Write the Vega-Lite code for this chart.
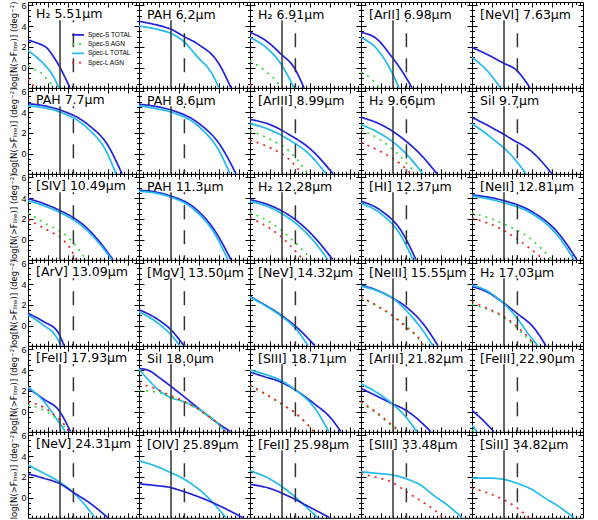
{
"$schema":"https://vega.github.io/schema/vega-lite/v6.json",
"padding":{"left":9,"top":0,"right":5,"bottom":0},
"spacing":0,
"bounds":"flush",
"config":{
 "view":{"continuousWidth":111,"continuousHeight":85.8,"stroke":"#000","strokeWidth":1},
 "title":{"anchor":"start","frame":"group","offset":-19.5,"baseline":"alphabetic","dx":8,"font":"DejaVu Sans","fontSize":12.5,"fontWeight":"normal","color":"#000"},
 "axis":{"domain":false,"grid":false,"ticks":true,"tickColor":"#000","tickWidth":1,"labelFont":"Liberation Sans","labelFontSize":9,"labelColor":"#000","labelOverlap":false,"labelPadding":7,"titleFont":"DejaVu Sans","titleFontSize":8.5,"titleFontWeight":"normal","titleColor":"#000","titlePadding":2},
 "axisX":{"tickCount":25,"tickSize":{"condition":{"test":"datum.value % 1 == 0","value":-5},"value":-2.5}},
 "axisY":{"tickCount":16,"tickSize":{"condition":{"test":"datum.value % 2 == 0","value":-5},"value":-2.5}},
 "legend":{"orient":"none","legendX":45.5,"legendY":28.3,"symbolType":"M-1.7,0H1.7","symbolSize":49,"symbolStrokeWidth":1.8,"labelFont":"Liberation Sans","labelFontSize":6.5,"labelColor":"#000","rowPadding":0.3,"padding":0,"labelOffset":5.5}
},
"datasets":{
"lims":[{"lim":"solid","flux":-19.4,"top":4.55,"bottom":-1.9},{"lim":"dashed","flux":-18.73,"top":4.55,"bottom":-1.9}],
"c":[
{"p":1,"s":"Spec-S TOTAL","x":[-21,-20.5,-20,-19.7,-19.4,-19.15,-18.9],"y":[2.65,2.35,1.8,1.0,0.05,-0.9,-1.9]},
{"p":1,"s":"Spec-S AGN","x":[-21,-20.665,-20.335,-20.085,-19.915,-19.7],"y":[0.2,-0.18,-0.49,-1.0,-1.38,-1.9]},
{"p":1,"s":"Spec-L TOTAL","x":[-21,-20.5,-20.1,-19.85,-19.45],"y":[1.65,0.9,0.15,-0.45,-1.9]},
{"p":1,"s":"Spec-L AGN","x":[-21,-20.65],"y":[-1.05,-1.9]},
{"p":2,"s":"Spec-S TOTAL","x":[-21,-20,-19.4,-18.75,-18.05,-17.05,-16.4],"y":[4.45,4.05,3.7,3.0,2.27,0.53,-1.9]},
{"p":2,"s":"Spec-L TOTAL","x":[-21,-20,-19.4,-18.75,-18.05,-17.4,-17],"y":[4.0,3.65,3.3,2.5,1.0,-0.4,-1.9]},
{"p":3,"s":"Spec-S TOTAL","x":[-21,-20.2,-19.45,-18.8,-18.3],"y":[3.4,2.6,1.32,0.05,-1.9]},
{"p":3,"s":"Spec-L TOTAL","x":[-21,-20.2,-19.45,-18.8],"y":[2.9,1.96,0.37,-1.9]},
{"p":3,"s":"Spec-S AGN","x":[-21,-20.3,-19.7,-19.45],"y":[0.68,-0.2,-1.22,-1.9]},
{"p":3,"s":"Spec-L AGN","x":[-21,-20.85],"y":[-1.55,-1.9]},
{"p":4,"s":"Spec-S TOTAL","x":[-21,-20.2,-19.5,-18.85,-18.45],"y":[3.4,2.75,1.16,-0.6,-1.9]},
{"p":4,"s":"Spec-L TOTAL","x":[-21,-20.2,-19.5,-19.1],"y":[2.9,1.8,-0.27,-1.9]},
{"p":4,"s":"Spec-S AGN","x":[-21,-20.35,-20.1],"y":[-0.42,-1.3,-1.9]},
{"p":5,"s":"Spec-S TOTAL","x":[-21,-20.25,-19.5,-18.75,-18.1],"y":[1.96,1.3,0.53,-0.27,-1.9]},
{"p":5,"s":"Spec-L TOTAL","x":[-21,-20.24,-19.575],"y":[1.0,-0.27,-1.9]},
{"p":6,"s":"Spec-S TOTAL","x":[-21,-20.2,-19.4,-18,-17,-16.3],"y":[4.8,4.6,4.2,2.8,0.8,-1.9]},
{"p":6,"s":"Spec-L TOTAL","x":[-21,-20.2,-19.4,-18,-17.1,-16.6],"y":[4.6,4.4,4.0,2.4,0.3,-1.9]},
{"p":7,"s":"Spec-S TOTAL","x":[-21,-20.2,-19.4,-18,-17,-16.15],"y":[4.75,4.55,4.2,2.9,1.0,-1.9]},
{"p":7,"s":"Spec-L TOTAL","x":[-21,-20.2,-19.4,-18,-17,-16.45],"y":[4.6,4.35,4.0,2.6,0.3,-1.9]},
{"p":8,"s":"Spec-S TOTAL","x":[-21,-20,-19,-18,-16.85],"y":[3.3,2.8,1.8,0.5,-1.9]},
{"p":8,"s":"Spec-L TOTAL","x":[-21,-20,-19,-18,-17.2],"y":[2.9,2.3,1.3,-0.1,-1.9]},
{"p":8,"s":"Spec-S AGN","x":[-21,-20,-19,-18.1],"y":[2.2,1.4,0.2,-1.9]},
{"p":8,"s":"Spec-L AGN","x":[-21,-20,-19,-18.4],"y":[1.3,0.6,-0.6,-1.9]},
{"p":9,"s":"Spec-S TOTAL","x":[-21,-20,-19,-18,-17.2],"y":[3.5,2.8,1.6,-0.1,-1.9]},
{"p":9,"s":"Spec-L TOTAL","x":[-21,-20,-19,-17.9],"y":[2.8,1.9,0.5,-1.9]},
{"p":9,"s":"Spec-S AGN","x":[-21,-20,-19,-18.25],"y":[2.3,1.3,-0.3,-1.9]},
{"p":9,"s":"Spec-L AGN","x":[-21,-20,-19,-18.5],"y":[1.1,0.2,-1.0,-1.9]},
{"p":10,"s":"Spec-S TOTAL","x":[-21,-20,-19,-18,-17],"y":[3.5,2.5,1.4,0.2,-1.9]},
{"p":10,"s":"Spec-L TOTAL","x":[-21,-20,-19,-18.3],"y":[2.9,1.5,-0.2,-1.9]},
{"p":11,"s":"Spec-S TOTAL","x":[-21,-20.25,-19.5,-18.75,-18.15,-17.5,-16.75],"y":[3.95,3.5,2.9,2.15,1.3,0.0,-1.9]},
{"p":11,"s":"Spec-L TOTAL","x":[-21,-20.25,-19.5,-18.75,-18.15,-17.5,-16.8],"y":[3.75,3.3,2.7,1.95,1.1,-0.2,-1.9]},
{"p":11,"s":"Spec-S AGN","x":[-21,-20,-19.25,-18.65,-18.1],"y":[2.57,1.45,0.66,-0.45,-1.9]},
{"p":11,"s":"Spec-L AGN","x":[-21,-19.915,-19.35,-18.85,-18.6],"y":[1.93,0.82,0.19,-0.93,-1.9]},
{"p":12,"s":"Spec-S TOTAL","x":[-21,-20.25,-19.5,-18.25,-17.25,-16.4],"y":[4.75,4.6,4.25,3.1,1.0,-1.9]},
{"p":12,"s":"Spec-L TOTAL","x":[-21,-20.25,-19.5,-18.25,-17.25,-16.55],"y":[4.65,4.5,4.15,2.9,0.7,-1.9]},
{"p":13,"s":"Spec-S TOTAL","x":[-21,-20,-19,-18,-16.85],"y":[3.85,3.3,2.3,0.7,-1.9]},
{"p":13,"s":"Spec-L TOTAL","x":[-21,-20,-19,-18,-17.1],"y":[3.7,3.1,2.0,0.3,-1.9]},
{"p":13,"s":"Spec-S AGN","x":[-21,-20,-19,-17.9],"y":[2.6,1.7,0.2,-1.9]},
{"p":13,"s":"Spec-L AGN","x":[-21,-20,-19,-18.35],"y":[2.1,1.1,-0.5,-1.9]},
{"p":14,"s":"Spec-S TOTAL","x":[-21,-20,-19,-18.25],"y":[3.7,2.8,0.9,-1.9]},
{"p":14,"s":"Spec-L TOTAL","x":[-21,-20,-19,-18.4],"y":[3.5,2.5,0.4,-1.9]},
{"p":15,"s":"Spec-S TOTAL","x":[-21,-19.5,-18,-16.75,-15.75],"y":[4.3,3.8,2.7,0.8,-1.9]},
{"p":15,"s":"Spec-L TOTAL","x":[-21,-19.5,-18,-16.75,-15.9],"y":[4.2,3.6,2.5,0.5,-1.9]},
{"p":15,"s":"Spec-S AGN","x":[-21,-19.5,-18,-17],"y":[2.6,1.6,0.0,-1.9]},
{"p":15,"s":"Spec-L AGN","x":[-21,-19.5,-18.25,-17.4],"y":[2.1,1.0,-0.6,-1.9]},
{"p":16,"s":"Spec-S TOTAL","x":[-21,-20.25,-19.5,-19.2],"y":[1.2,0.45,-0.6,-1.9]},
{"p":16,"s":"Spec-L TOTAL","x":[-21,-20.25,-19.6,-19.35],"y":[1.05,0.1,-1.0,-1.9]},
{"p":17,"s":"Spec-S TOTAL","x":[-21,-20.15,-19.4,-18.75],"y":[1.55,0.73,-0.38,-1.9]},
{"p":17,"s":"Spec-L TOTAL","x":[-21,-20.15,-19.4,-18.95],"y":[1.35,0.4,-0.85,-1.9]},
{"p":18,"s":"Spec-S TOTAL","x":[-21,-20.25,-19.45,-18.7,-17.75],"y":[2.8,2.0,1.04,-0.07,-1.9]},
{"p":18,"s":"Spec-L TOTAL","x":[-21,-20.25,-19.45,-18.7,-18.1],"y":[2.75,1.95,0.95,-0.3,-1.9]},
{"p":19,"s":"Spec-S TOTAL","x":[-21,-20.25,-19.45,-18.75,-17.85,-17.15],"y":[3.9,3.45,2.7,1.83,0.1,-1.9]},
{"p":19,"s":"Spec-L TOTAL","x":[-21,-20.25,-19.45,-18.75,-18,-17.4],"y":[3.8,3.4,2.7,1.5,-0.2,-1.9]},
{"p":19,"s":"Spec-S AGN","x":[-21,-20,-19.35,-18.7,-17.85],"y":[2.65,1.7,0.9,-0.05,-1.9]},
{"p":19,"s":"Spec-L AGN","x":[-21,-20,-19.35,-18.7,-18,-17.9],"y":[2.8,1.68,0.88,-0.22,-1.5,-1.9]},
{"p":20,"s":"Spec-S TOTAL","x":[-21,-20.25,-19.5,-18.75,-17.9,-17.3],"y":[3.75,3.25,2.3,1.2,-0.2,-1.9]},
{"p":20,"s":"Spec-L TOTAL","x":[-21,-20.25,-19.5,-18.75,-18.15,-17.7],"y":[3.9,3.35,2.3,0.75,-0.86,-1.9]},
{"p":20,"s":"Spec-S AGN","x":[-21,-20.25,-19.4,-18.75,-18.1,-17.85],"y":[2.05,1.6,0.8,-0.2,-1.45,-1.9]},
{"p":20,"s":"Spec-L AGN","x":[-21,-20.25,-19.4,-18.75,-18.075,-17.85],"y":[2.31,1.68,0.88,-0.07,-1.34,-1.9]},
{"p":21,"s":"Spec-S TOTAL","x":[-21,-20.25,-19.4,-18.875],"y":[2.25,1.27,0.0,-1.9]},
{"p":21,"s":"Spec-L TOTAL","x":[-21,-20.25,-19.585,-19.125],"y":[2.38,1.1,-0.63,-1.9]},
{"p":21,"s":"Spec-S AGN","x":[-21,-20.25,-19.65,-19.15,-19.0],"y":[0.65,0.2,-0.5,-1.5,-1.9]},
{"p":21,"s":"Spec-L AGN","x":[-21,-20.25,-19.665,-19.165,-18.95],"y":[0.95,0.47,-0.32,-1.27,-1.9]},
{"p":22,"s":"Spec-S TOTAL","x":[-21,-20.5,-20,-19.475,-18.725,-17.8,-17.15,-16.4],"y":[4.15,3.95,3.3,2.55,1.42,0.0,-0.95,-1.9]},
{"p":22,"s":"Spec-L TOTAL","x":[-21,-20.5,-20,-19.475,-18.725,-17.8,-16.8,-16.65],"y":[4.1,3.0,2.05,1.42,0.95,0.0,-1.6,-1.9]},
{"p":22,"s":"Spec-S AGN","x":[-21,-20.15,-19.475,-18.725,-17.8,-16.8,-16.7],"y":[2.05,1.9,1.45,0.95,-0.05,-1.65,-1.9]},
{"p":22,"s":"Spec-L AGN","x":[-21,-20.15,-19.475,-18.725,-17.8,-16.8,-16.7],"y":[2.7,2.2,1.6,1.0,-0.05,-1.65,-1.9]},
{"p":23,"s":"Spec-S TOTAL","x":[-21,-20.25,-19.45,-18.7,-17.8,-17,-16.45],"y":[3.8,3.35,2.85,2.06,0.8,-0.5,-1.9]},
{"p":23,"s":"Spec-L TOTAL","x":[-21,-20.25,-19.45,-18.7,-17.8,-17.05],"y":[4.0,3.6,3.0,2.06,0.45,-1.9]},
{"p":23,"s":"Spec-S AGN","x":[-21,-20.25,-19.45,-18.7,-17.8],"y":[2.45,1.7,0.78,-0.17,-1.9]},
{"p":23,"s":"Spec-L AGN","x":[-21,-20.25,-19.45,-18.7,-17.8],"y":[2.55,1.75,0.8,-0.15,-1.9]},
{"p":24,"s":"Spec-S TOTAL","x":[-21,-20.25,-19.45,-18.75,-17.5],"y":[2.25,1.55,0.8,0.16,-1.9]},
{"p":24,"s":"Spec-L TOTAL","x":[-21,-20.25,-19.45,-18.75,-18.2],"y":[2.7,1.9,0.8,-0.5,-1.9]},
{"p":24,"s":"Spec-S AGN","x":[-21,-20.25,-19.45,-19.1],"y":[0.85,-0.1,-1.35,-1.9]},
{"p":24,"s":"Spec-L AGN","x":[-21,-20.25,-19.45,-19],"y":[0.95,0.0,-1.25,-1.9]},
{"p":25,"s":"Spec-S TOTAL","x":[-21,-20.45,-19.9],"y":[0.15,-0.8,-1.9]},
{"p":25,"s":"Spec-L TOTAL","x":[-21,-20.75],"y":[-1.27,-1.9]},
{"p":25,"s":"Spec-S AGN","x":[-21,-20.7],"y":[-1.75,-1.9]},
{"p":26,"s":"Spec-L TOTAL","x":[-21,-20.25,-19.4,-18.75,-17.65],"y":[3.15,2.4,1.5,0.55,-1.9]},
{"p":26,"s":"Spec-S TOTAL","x":[-21,-20.25,-19.4,-18.75,-17.9,-17],"y":[2.3,1.9,1.35,0.55,-0.5,-1.9]},
{"p":27,"s":"Spec-L TOTAL","x":[-21,-20.25,-19.45,-18.75,-17.75,-16.65],"y":[3.55,3.1,2.45,1.8,0.4,-1.9]},
{"p":27,"s":"Spec-S TOTAL","x":[-21,-20.25,-19.45,-18.75,-17.5,-16.5,-15.8],"y":[1.35,1.2,1.0,0.6,-0.3,-1.2,-1.9]},
{"p":28,"s":"Spec-L TOTAL","x":[-21,-20,-19,-18,-17.6],"y":[2.6,1.8,0.5,-1.2,-1.9]},
{"p":28,"s":"Spec-S TOTAL","x":[-21,-20,-19,-18,-17],"y":[1.3,0.9,0.1,-0.9,-1.9]},
{"p":29,"s":"Spec-L TOTAL","x":[-21,-20.2,-19.45,-18.7,-18,-17.35,-16.6,-15.95],"y":[2.5,2.35,2.2,1.8,1.2,0.22,-0.8,-1.9]},
{"p":29,"s":"Spec-L AGN","x":[-21,-20.2,-19.45,-18.7,-18,-17.2,-16.9],"y":[2.3,1.95,1.5,0.55,-0.3,-1.35,-1.9]},
{"p":30,"s":"Spec-L TOTAL","x":[-21,-20.25,-19.5,-18.75,-18,-17.4,-16.6,-15.9],"y":[1.9,1.9,1.8,1.4,0.8,0.05,-0.9,-1.9]},
{"p":30,"s":"Spec-L AGN","x":[-21,-20.25,-19.5,-18.75,-18.15],"y":[0.95,0.5,-0.1,-0.95,-1.9]}
]},
"columns":5,
"concat":[
{"title":"H₂ 5.51μm","resolve":{"axis":{"x":"independent","y":"independent"}},"layer":[{"data":{"name":"c"},"transform":[{"filter":"datum.p==1"},{"flatten":["x","y"]}],"mark":{"type":"line","clip":true,"strokeWidth":1.7,"interpolate":"monotone"},"encoding":{"x":{"field":"x","type":"quantitative","scale":{"domain":[-21,-15.45],"nice":false},"axis":{"orient":"bottom","labels":false,"title":null}},"y":{"field":"y","type":"quantitative","scale":{"domain":[-1.9,6.3],"nice":false},"axis":{"orient":"left","title":"log[N(>Fₗᵢₙₑ)] (deg⁻²)","labelExpr":"datum.value % 2 == 0 ? format(datum.value, 'd') : ''"}},"color":{"field":"s","type":"nominal","title":null,"scale":{"domain":["Spec-S TOTAL","Spec-S AGN","Spec-L TOTAL","Spec-L AGN"],"range":["#2222dd","#33dd33","#22bbee","#ee2222"]}},"strokeDash":{"field":"s","type":"nominal","title":null,"scale":{"domain":["Spec-S TOTAL","Spec-S AGN","Spec-L TOTAL","Spec-L AGN"],"range":[[1,0],[2,5],[1,0],[2,5]]}}}},{"data":{"name":"lims"},"transform":[{"filter":"datum.lim=='solid'"}],"mark":{"type":"rule","color":"#333","strokeWidth":1.5},"encoding":{"x":{"field":"flux","type":"quantitative","scale":{"domain":[-21,-15.45],"nice":false},"axis":{"orient":"top","labels":false,"title":null}},"y":{"field":"top","type":"quantitative","scale":{"domain":[-1.9,6.3],"nice":false},"axis":{"orient":"right","labels":false,"title":null}},"y2":{"field":"bottom"}}},{"data":{"name":"lims"},"transform":[{"filter":"datum.lim=='dashed'"}],"mark":{"type":"rule","color":"#333","strokeWidth":1.5,"strokeDash":[14,11],"strokeDashOffset":12},"encoding":{"x":{"field":"flux","type":"quantitative","scale":{"domain":[-21,-15.45],"nice":false},"axis":null},"y":{"field":"top","type":"quantitative","scale":{"domain":[-1.9,6.3],"nice":false},"axis":null},"y2":{"field":"bottom"}}}]},
{"title":"PAH 6.2μm","resolve":{"axis":{"x":"independent","y":"independent"}},"layer":[{"data":{"name":"c"},"transform":[{"filter":"datum.p==2"},{"flatten":["x","y"]}],"mark":{"type":"line","clip":true,"strokeWidth":1.7,"interpolate":"monotone"},"encoding":{"x":{"field":"x","type":"quantitative","scale":{"domain":[-21,-15.45],"nice":false},"axis":{"orient":"bottom","labels":false,"title":null}},"y":{"field":"y","type":"quantitative","scale":{"domain":[-1.9,6.3],"nice":false},"axis":{"orient":"left","labels":false,"title":null}},"color":{"field":"s","type":"nominal","title":null,"scale":{"domain":["Spec-S TOTAL","Spec-S AGN","Spec-L TOTAL","Spec-L AGN"],"range":["#2222dd","#33dd33","#22bbee","#ee2222"]}},"strokeDash":{"field":"s","type":"nominal","title":null,"scale":{"domain":["Spec-S TOTAL","Spec-S AGN","Spec-L TOTAL","Spec-L AGN"],"range":[[1,0],[2,5],[1,0],[2,5]]}}}},{"data":{"name":"lims"},"transform":[{"filter":"datum.lim=='solid'"}],"mark":{"type":"rule","color":"#333","strokeWidth":1.5},"encoding":{"x":{"field":"flux","type":"quantitative","scale":{"domain":[-21,-15.45],"nice":false},"axis":{"orient":"top","labels":false,"title":null}},"y":{"field":"top","type":"quantitative","scale":{"domain":[-1.9,6.3],"nice":false},"axis":{"orient":"right","labels":false,"title":null}},"y2":{"field":"bottom"}}},{"data":{"name":"lims"},"transform":[{"filter":"datum.lim=='dashed'"}],"mark":{"type":"rule","color":"#333","strokeWidth":1.5,"strokeDash":[14,11],"strokeDashOffset":12},"encoding":{"x":{"field":"flux","type":"quantitative","scale":{"domain":[-21,-15.45],"nice":false},"axis":null},"y":{"field":"top","type":"quantitative","scale":{"domain":[-1.9,6.3],"nice":false},"axis":null},"y2":{"field":"bottom"}}}]},
{"title":"H₂ 6.91μm","resolve":{"axis":{"x":"independent","y":"independent"}},"layer":[{"data":{"name":"c"},"transform":[{"filter":"datum.p==3"},{"flatten":["x","y"]}],"mark":{"type":"line","clip":true,"strokeWidth":1.7,"interpolate":"monotone"},"encoding":{"x":{"field":"x","type":"quantitative","scale":{"domain":[-21,-15.45],"nice":false},"axis":{"orient":"bottom","labels":false,"title":null}},"y":{"field":"y","type":"quantitative","scale":{"domain":[-1.9,6.3],"nice":false},"axis":{"orient":"left","labels":false,"title":null}},"color":{"field":"s","type":"nominal","title":null,"scale":{"domain":["Spec-S TOTAL","Spec-S AGN","Spec-L TOTAL","Spec-L AGN"],"range":["#2222dd","#33dd33","#22bbee","#ee2222"]}},"strokeDash":{"field":"s","type":"nominal","title":null,"scale":{"domain":["Spec-S TOTAL","Spec-S AGN","Spec-L TOTAL","Spec-L AGN"],"range":[[1,0],[2,5],[1,0],[2,5]]}}}},{"data":{"name":"lims"},"transform":[{"filter":"datum.lim=='solid'"}],"mark":{"type":"rule","color":"#333","strokeWidth":1.5},"encoding":{"x":{"field":"flux","type":"quantitative","scale":{"domain":[-21,-15.45],"nice":false},"axis":{"orient":"top","labels":false,"title":null}},"y":{"field":"top","type":"quantitative","scale":{"domain":[-1.9,6.3],"nice":false},"axis":{"orient":"right","labels":false,"title":null}},"y2":{"field":"bottom"}}},{"data":{"name":"lims"},"transform":[{"filter":"datum.lim=='dashed'"}],"mark":{"type":"rule","color":"#333","strokeWidth":1.5,"strokeDash":[14,11],"strokeDashOffset":12},"encoding":{"x":{"field":"flux","type":"quantitative","scale":{"domain":[-21,-15.45],"nice":false},"axis":null},"y":{"field":"top","type":"quantitative","scale":{"domain":[-1.9,6.3],"nice":false},"axis":null},"y2":{"field":"bottom"}}}]},
{"title":"[ArII] 6.98μm","resolve":{"axis":{"x":"independent","y":"independent"}},"layer":[{"data":{"name":"c"},"transform":[{"filter":"datum.p==4"},{"flatten":["x","y"]}],"mark":{"type":"line","clip":true,"strokeWidth":1.7,"interpolate":"monotone"},"encoding":{"x":{"field":"x","type":"quantitative","scale":{"domain":[-21,-15.45],"nice":false},"axis":{"orient":"bottom","labels":false,"title":null}},"y":{"field":"y","type":"quantitative","scale":{"domain":[-1.9,6.3],"nice":false},"axis":{"orient":"left","labels":false,"title":null}},"color":{"field":"s","type":"nominal","title":null,"scale":{"domain":["Spec-S TOTAL","Spec-S AGN","Spec-L TOTAL","Spec-L AGN"],"range":["#2222dd","#33dd33","#22bbee","#ee2222"]}},"strokeDash":{"field":"s","type":"nominal","title":null,"scale":{"domain":["Spec-S TOTAL","Spec-S AGN","Spec-L TOTAL","Spec-L AGN"],"range":[[1,0],[2,5],[1,0],[2,5]]}}}},{"data":{"name":"lims"},"transform":[{"filter":"datum.lim=='solid'"}],"mark":{"type":"rule","color":"#333","strokeWidth":1.5},"encoding":{"x":{"field":"flux","type":"quantitative","scale":{"domain":[-21,-15.45],"nice":false},"axis":{"orient":"top","labels":false,"title":null}},"y":{"field":"top","type":"quantitative","scale":{"domain":[-1.9,6.3],"nice":false},"axis":{"orient":"right","labels":false,"title":null}},"y2":{"field":"bottom"}}},{"data":{"name":"lims"},"transform":[{"filter":"datum.lim=='dashed'"}],"mark":{"type":"rule","color":"#333","strokeWidth":1.5,"strokeDash":[14,11],"strokeDashOffset":12},"encoding":{"x":{"field":"flux","type":"quantitative","scale":{"domain":[-21,-15.45],"nice":false},"axis":null},"y":{"field":"top","type":"quantitative","scale":{"domain":[-1.9,6.3],"nice":false},"axis":null},"y2":{"field":"bottom"}}}]},
{"title":"[NeVI] 7.63μm","resolve":{"axis":{"x":"independent","y":"independent"}},"layer":[{"data":{"name":"c"},"transform":[{"filter":"datum.p==5"},{"flatten":["x","y"]}],"mark":{"type":"line","clip":true,"strokeWidth":1.7,"interpolate":"monotone"},"encoding":{"x":{"field":"x","type":"quantitative","scale":{"domain":[-21,-15.45],"nice":false},"axis":{"orient":"bottom","labels":false,"title":null}},"y":{"field":"y","type":"quantitative","scale":{"domain":[-1.9,6.3],"nice":false},"axis":{"orient":"left","labels":false,"title":null}},"color":{"field":"s","type":"nominal","title":null,"scale":{"domain":["Spec-S TOTAL","Spec-S AGN","Spec-L TOTAL","Spec-L AGN"],"range":["#2222dd","#33dd33","#22bbee","#ee2222"]}},"strokeDash":{"field":"s","type":"nominal","title":null,"scale":{"domain":["Spec-S TOTAL","Spec-S AGN","Spec-L TOTAL","Spec-L AGN"],"range":[[1,0],[2,5],[1,0],[2,5]]}}}},{"data":{"name":"lims"},"transform":[{"filter":"datum.lim=='solid'"}],"mark":{"type":"rule","color":"#333","strokeWidth":1.5},"encoding":{"x":{"field":"flux","type":"quantitative","scale":{"domain":[-21,-15.45],"nice":false},"axis":{"orient":"top","labels":false,"title":null}},"y":{"field":"top","type":"quantitative","scale":{"domain":[-1.9,6.3],"nice":false},"axis":{"orient":"right","labels":false,"title":null}},"y2":{"field":"bottom"}}},{"data":{"name":"lims"},"transform":[{"filter":"datum.lim=='dashed'"}],"mark":{"type":"rule","color":"#333","strokeWidth":1.5,"strokeDash":[14,11],"strokeDashOffset":12},"encoding":{"x":{"field":"flux","type":"quantitative","scale":{"domain":[-21,-15.45],"nice":false},"axis":null},"y":{"field":"top","type":"quantitative","scale":{"domain":[-1.9,6.3],"nice":false},"axis":null},"y2":{"field":"bottom"}}}]},
{"title":"PAH 7.7μm","resolve":{"axis":{"x":"independent","y":"independent"}},"layer":[{"data":{"name":"c"},"transform":[{"filter":"datum.p==6"},{"flatten":["x","y"]}],"mark":{"type":"line","clip":true,"strokeWidth":1.7,"interpolate":"monotone"},"encoding":{"x":{"field":"x","type":"quantitative","scale":{"domain":[-21,-15.45],"nice":false},"axis":{"orient":"bottom","labels":false,"title":null}},"y":{"field":"y","type":"quantitative","scale":{"domain":[-1.9,6.3],"nice":false},"axis":{"orient":"left","title":"log[N(>Fₗᵢₙₑ)] (deg⁻²)","labelExpr":"datum.value % 2 == 0 ? format(datum.value, 'd') : ''"}},"color":{"field":"s","type":"nominal","title":null,"scale":{"domain":["Spec-S TOTAL","Spec-S AGN","Spec-L TOTAL","Spec-L AGN"],"range":["#2222dd","#33dd33","#22bbee","#ee2222"]}},"strokeDash":{"field":"s","type":"nominal","title":null,"scale":{"domain":["Spec-S TOTAL","Spec-S AGN","Spec-L TOTAL","Spec-L AGN"],"range":[[1,0],[2,5],[1,0],[2,5]]}}}},{"data":{"name":"lims"},"transform":[{"filter":"datum.lim=='solid'"}],"mark":{"type":"rule","color":"#333","strokeWidth":1.5},"encoding":{"x":{"field":"flux","type":"quantitative","scale":{"domain":[-21,-15.45],"nice":false},"axis":{"orient":"top","labels":false,"title":null}},"y":{"field":"top","type":"quantitative","scale":{"domain":[-1.9,6.3],"nice":false},"axis":{"orient":"right","labels":false,"title":null}},"y2":{"field":"bottom"}}},{"data":{"name":"lims"},"transform":[{"filter":"datum.lim=='dashed'"}],"mark":{"type":"rule","color":"#333","strokeWidth":1.5,"strokeDash":[14,11],"strokeDashOffset":12},"encoding":{"x":{"field":"flux","type":"quantitative","scale":{"domain":[-21,-15.45],"nice":false},"axis":null},"y":{"field":"top","type":"quantitative","scale":{"domain":[-1.9,6.3],"nice":false},"axis":null},"y2":{"field":"bottom"}}}]},
{"title":"PAH 8.6μm","resolve":{"axis":{"x":"independent","y":"independent"}},"layer":[{"data":{"name":"c"},"transform":[{"filter":"datum.p==7"},{"flatten":["x","y"]}],"mark":{"type":"line","clip":true,"strokeWidth":1.7,"interpolate":"monotone"},"encoding":{"x":{"field":"x","type":"quantitative","scale":{"domain":[-21,-15.45],"nice":false},"axis":{"orient":"bottom","labels":false,"title":null}},"y":{"field":"y","type":"quantitative","scale":{"domain":[-1.9,6.3],"nice":false},"axis":{"orient":"left","labels":false,"title":null}},"color":{"field":"s","type":"nominal","title":null,"scale":{"domain":["Spec-S TOTAL","Spec-S AGN","Spec-L TOTAL","Spec-L AGN"],"range":["#2222dd","#33dd33","#22bbee","#ee2222"]}},"strokeDash":{"field":"s","type":"nominal","title":null,"scale":{"domain":["Spec-S TOTAL","Spec-S AGN","Spec-L TOTAL","Spec-L AGN"],"range":[[1,0],[2,5],[1,0],[2,5]]}}}},{"data":{"name":"lims"},"transform":[{"filter":"datum.lim=='solid'"}],"mark":{"type":"rule","color":"#333","strokeWidth":1.5},"encoding":{"x":{"field":"flux","type":"quantitative","scale":{"domain":[-21,-15.45],"nice":false},"axis":{"orient":"top","labels":false,"title":null}},"y":{"field":"top","type":"quantitative","scale":{"domain":[-1.9,6.3],"nice":false},"axis":{"orient":"right","labels":false,"title":null}},"y2":{"field":"bottom"}}},{"data":{"name":"lims"},"transform":[{"filter":"datum.lim=='dashed'"}],"mark":{"type":"rule","color":"#333","strokeWidth":1.5,"strokeDash":[14,11],"strokeDashOffset":12},"encoding":{"x":{"field":"flux","type":"quantitative","scale":{"domain":[-21,-15.45],"nice":false},"axis":null},"y":{"field":"top","type":"quantitative","scale":{"domain":[-1.9,6.3],"nice":false},"axis":null},"y2":{"field":"bottom"}}}]},
{"title":"[ArIII] 8.99μm","resolve":{"axis":{"x":"independent","y":"independent"}},"layer":[{"data":{"name":"c"},"transform":[{"filter":"datum.p==8"},{"flatten":["x","y"]}],"mark":{"type":"line","clip":true,"strokeWidth":1.7,"interpolate":"monotone"},"encoding":{"x":{"field":"x","type":"quantitative","scale":{"domain":[-21,-15.45],"nice":false},"axis":{"orient":"bottom","labels":false,"title":null}},"y":{"field":"y","type":"quantitative","scale":{"domain":[-1.9,6.3],"nice":false},"axis":{"orient":"left","labels":false,"title":null}},"color":{"field":"s","type":"nominal","title":null,"scale":{"domain":["Spec-S TOTAL","Spec-S AGN","Spec-L TOTAL","Spec-L AGN"],"range":["#2222dd","#33dd33","#22bbee","#ee2222"]}},"strokeDash":{"field":"s","type":"nominal","title":null,"scale":{"domain":["Spec-S TOTAL","Spec-S AGN","Spec-L TOTAL","Spec-L AGN"],"range":[[1,0],[2,5],[1,0],[2,5]]}}}},{"data":{"name":"lims"},"transform":[{"filter":"datum.lim=='solid'"}],"mark":{"type":"rule","color":"#333","strokeWidth":1.5},"encoding":{"x":{"field":"flux","type":"quantitative","scale":{"domain":[-21,-15.45],"nice":false},"axis":{"orient":"top","labels":false,"title":null}},"y":{"field":"top","type":"quantitative","scale":{"domain":[-1.9,6.3],"nice":false},"axis":{"orient":"right","labels":false,"title":null}},"y2":{"field":"bottom"}}},{"data":{"name":"lims"},"transform":[{"filter":"datum.lim=='dashed'"}],"mark":{"type":"rule","color":"#333","strokeWidth":1.5,"strokeDash":[14,11],"strokeDashOffset":12},"encoding":{"x":{"field":"flux","type":"quantitative","scale":{"domain":[-21,-15.45],"nice":false},"axis":null},"y":{"field":"top","type":"quantitative","scale":{"domain":[-1.9,6.3],"nice":false},"axis":null},"y2":{"field":"bottom"}}}]},
{"title":"H₂ 9.66μm","resolve":{"axis":{"x":"independent","y":"independent"}},"layer":[{"data":{"name":"c"},"transform":[{"filter":"datum.p==9"},{"flatten":["x","y"]}],"mark":{"type":"line","clip":true,"strokeWidth":1.7,"interpolate":"monotone"},"encoding":{"x":{"field":"x","type":"quantitative","scale":{"domain":[-21,-15.45],"nice":false},"axis":{"orient":"bottom","labels":false,"title":null}},"y":{"field":"y","type":"quantitative","scale":{"domain":[-1.9,6.3],"nice":false},"axis":{"orient":"left","labels":false,"title":null}},"color":{"field":"s","type":"nominal","title":null,"scale":{"domain":["Spec-S TOTAL","Spec-S AGN","Spec-L TOTAL","Spec-L AGN"],"range":["#2222dd","#33dd33","#22bbee","#ee2222"]}},"strokeDash":{"field":"s","type":"nominal","title":null,"scale":{"domain":["Spec-S TOTAL","Spec-S AGN","Spec-L TOTAL","Spec-L AGN"],"range":[[1,0],[2,5],[1,0],[2,5]]}}}},{"data":{"name":"lims"},"transform":[{"filter":"datum.lim=='solid'"}],"mark":{"type":"rule","color":"#333","strokeWidth":1.5},"encoding":{"x":{"field":"flux","type":"quantitative","scale":{"domain":[-21,-15.45],"nice":false},"axis":{"orient":"top","labels":false,"title":null}},"y":{"field":"top","type":"quantitative","scale":{"domain":[-1.9,6.3],"nice":false},"axis":{"orient":"right","labels":false,"title":null}},"y2":{"field":"bottom"}}},{"data":{"name":"lims"},"transform":[{"filter":"datum.lim=='dashed'"}],"mark":{"type":"rule","color":"#333","strokeWidth":1.5,"strokeDash":[14,11],"strokeDashOffset":12},"encoding":{"x":{"field":"flux","type":"quantitative","scale":{"domain":[-21,-15.45],"nice":false},"axis":null},"y":{"field":"top","type":"quantitative","scale":{"domain":[-1.9,6.3],"nice":false},"axis":null},"y2":{"field":"bottom"}}}]},
{"title":"SiI 9.7μm","resolve":{"axis":{"x":"independent","y":"independent"}},"layer":[{"data":{"name":"c"},"transform":[{"filter":"datum.p==10"},{"flatten":["x","y"]}],"mark":{"type":"line","clip":true,"strokeWidth":1.7,"interpolate":"monotone"},"encoding":{"x":{"field":"x","type":"quantitative","scale":{"domain":[-21,-15.45],"nice":false},"axis":{"orient":"bottom","labels":false,"title":null}},"y":{"field":"y","type":"quantitative","scale":{"domain":[-1.9,6.3],"nice":false},"axis":{"orient":"left","labels":false,"title":null}},"color":{"field":"s","type":"nominal","title":null,"scale":{"domain":["Spec-S TOTAL","Spec-S AGN","Spec-L TOTAL","Spec-L AGN"],"range":["#2222dd","#33dd33","#22bbee","#ee2222"]}},"strokeDash":{"field":"s","type":"nominal","title":null,"scale":{"domain":["Spec-S TOTAL","Spec-S AGN","Spec-L TOTAL","Spec-L AGN"],"range":[[1,0],[2,5],[1,0],[2,5]]}}}},{"data":{"name":"lims"},"transform":[{"filter":"datum.lim=='solid'"}],"mark":{"type":"rule","color":"#333","strokeWidth":1.5},"encoding":{"x":{"field":"flux","type":"quantitative","scale":{"domain":[-21,-15.45],"nice":false},"axis":{"orient":"top","labels":false,"title":null}},"y":{"field":"top","type":"quantitative","scale":{"domain":[-1.9,6.3],"nice":false},"axis":{"orient":"right","labels":false,"title":null}},"y2":{"field":"bottom"}}},{"data":{"name":"lims"},"transform":[{"filter":"datum.lim=='dashed'"}],"mark":{"type":"rule","color":"#333","strokeWidth":1.5,"strokeDash":[14,11],"strokeDashOffset":12},"encoding":{"x":{"field":"flux","type":"quantitative","scale":{"domain":[-21,-15.45],"nice":false},"axis":null},"y":{"field":"top","type":"quantitative","scale":{"domain":[-1.9,6.3],"nice":false},"axis":null},"y2":{"field":"bottom"}}}]},
{"title":"[SIV] 10.49μm","resolve":{"axis":{"x":"independent","y":"independent"}},"layer":[{"data":{"name":"c"},"transform":[{"filter":"datum.p==11"},{"flatten":["x","y"]}],"mark":{"type":"line","clip":true,"strokeWidth":1.7,"interpolate":"monotone"},"encoding":{"x":{"field":"x","type":"quantitative","scale":{"domain":[-21,-15.45],"nice":false},"axis":{"orient":"bottom","labels":false,"title":null}},"y":{"field":"y","type":"quantitative","scale":{"domain":[-1.9,6.3],"nice":false},"axis":{"orient":"left","title":"log[N(>Fₗᵢₙₑ)] (deg⁻²)","labelExpr":"datum.value % 2 == 0 ? format(datum.value, 'd') : ''"}},"color":{"field":"s","type":"nominal","title":null,"scale":{"domain":["Spec-S TOTAL","Spec-S AGN","Spec-L TOTAL","Spec-L AGN"],"range":["#2222dd","#33dd33","#22bbee","#ee2222"]}},"strokeDash":{"field":"s","type":"nominal","title":null,"scale":{"domain":["Spec-S TOTAL","Spec-S AGN","Spec-L TOTAL","Spec-L AGN"],"range":[[1,0],[2,5],[1,0],[2,5]]}}}},{"data":{"name":"lims"},"transform":[{"filter":"datum.lim=='solid'"}],"mark":{"type":"rule","color":"#333","strokeWidth":1.5},"encoding":{"x":{"field":"flux","type":"quantitative","scale":{"domain":[-21,-15.45],"nice":false},"axis":{"orient":"top","labels":false,"title":null}},"y":{"field":"top","type":"quantitative","scale":{"domain":[-1.9,6.3],"nice":false},"axis":{"orient":"right","labels":false,"title":null}},"y2":{"field":"bottom"}}},{"data":{"name":"lims"},"transform":[{"filter":"datum.lim=='dashed'"}],"mark":{"type":"rule","color":"#333","strokeWidth":1.5,"strokeDash":[14,11],"strokeDashOffset":12},"encoding":{"x":{"field":"flux","type":"quantitative","scale":{"domain":[-21,-15.45],"nice":false},"axis":null},"y":{"field":"top","type":"quantitative","scale":{"domain":[-1.9,6.3],"nice":false},"axis":null},"y2":{"field":"bottom"}}}]},
{"title":"PAH 11.3μm","resolve":{"axis":{"x":"independent","y":"independent"}},"layer":[{"data":{"name":"c"},"transform":[{"filter":"datum.p==12"},{"flatten":["x","y"]}],"mark":{"type":"line","clip":true,"strokeWidth":1.7,"interpolate":"monotone"},"encoding":{"x":{"field":"x","type":"quantitative","scale":{"domain":[-21,-15.45],"nice":false},"axis":{"orient":"bottom","labels":false,"title":null}},"y":{"field":"y","type":"quantitative","scale":{"domain":[-1.9,6.3],"nice":false},"axis":{"orient":"left","labels":false,"title":null}},"color":{"field":"s","type":"nominal","title":null,"scale":{"domain":["Spec-S TOTAL","Spec-S AGN","Spec-L TOTAL","Spec-L AGN"],"range":["#2222dd","#33dd33","#22bbee","#ee2222"]}},"strokeDash":{"field":"s","type":"nominal","title":null,"scale":{"domain":["Spec-S TOTAL","Spec-S AGN","Spec-L TOTAL","Spec-L AGN"],"range":[[1,0],[2,5],[1,0],[2,5]]}}}},{"data":{"name":"lims"},"transform":[{"filter":"datum.lim=='solid'"}],"mark":{"type":"rule","color":"#333","strokeWidth":1.5},"encoding":{"x":{"field":"flux","type":"quantitative","scale":{"domain":[-21,-15.45],"nice":false},"axis":{"orient":"top","labels":false,"title":null}},"y":{"field":"top","type":"quantitative","scale":{"domain":[-1.9,6.3],"nice":false},"axis":{"orient":"right","labels":false,"title":null}},"y2":{"field":"bottom"}}},{"data":{"name":"lims"},"transform":[{"filter":"datum.lim=='dashed'"}],"mark":{"type":"rule","color":"#333","strokeWidth":1.5,"strokeDash":[14,11],"strokeDashOffset":12},"encoding":{"x":{"field":"flux","type":"quantitative","scale":{"domain":[-21,-15.45],"nice":false},"axis":null},"y":{"field":"top","type":"quantitative","scale":{"domain":[-1.9,6.3],"nice":false},"axis":null},"y2":{"field":"bottom"}}}]},
{"title":"H₂ 12.28μm","resolve":{"axis":{"x":"independent","y":"independent"}},"layer":[{"data":{"name":"c"},"transform":[{"filter":"datum.p==13"},{"flatten":["x","y"]}],"mark":{"type":"line","clip":true,"strokeWidth":1.7,"interpolate":"monotone"},"encoding":{"x":{"field":"x","type":"quantitative","scale":{"domain":[-21,-15.45],"nice":false},"axis":{"orient":"bottom","labels":false,"title":null}},"y":{"field":"y","type":"quantitative","scale":{"domain":[-1.9,6.3],"nice":false},"axis":{"orient":"left","labels":false,"title":null}},"color":{"field":"s","type":"nominal","title":null,"scale":{"domain":["Spec-S TOTAL","Spec-S AGN","Spec-L TOTAL","Spec-L AGN"],"range":["#2222dd","#33dd33","#22bbee","#ee2222"]}},"strokeDash":{"field":"s","type":"nominal","title":null,"scale":{"domain":["Spec-S TOTAL","Spec-S AGN","Spec-L TOTAL","Spec-L AGN"],"range":[[1,0],[2,5],[1,0],[2,5]]}}}},{"data":{"name":"lims"},"transform":[{"filter":"datum.lim=='solid'"}],"mark":{"type":"rule","color":"#333","strokeWidth":1.5},"encoding":{"x":{"field":"flux","type":"quantitative","scale":{"domain":[-21,-15.45],"nice":false},"axis":{"orient":"top","labels":false,"title":null}},"y":{"field":"top","type":"quantitative","scale":{"domain":[-1.9,6.3],"nice":false},"axis":{"orient":"right","labels":false,"title":null}},"y2":{"field":"bottom"}}},{"data":{"name":"lims"},"transform":[{"filter":"datum.lim=='dashed'"}],"mark":{"type":"rule","color":"#333","strokeWidth":1.5,"strokeDash":[14,11],"strokeDashOffset":12},"encoding":{"x":{"field":"flux","type":"quantitative","scale":{"domain":[-21,-15.45],"nice":false},"axis":null},"y":{"field":"top","type":"quantitative","scale":{"domain":[-1.9,6.3],"nice":false},"axis":null},"y2":{"field":"bottom"}}}]},
{"title":"[HI] 12.37μm","resolve":{"axis":{"x":"independent","y":"independent"}},"layer":[{"data":{"name":"c"},"transform":[{"filter":"datum.p==14"},{"flatten":["x","y"]}],"mark":{"type":"line","clip":true,"strokeWidth":1.7,"interpolate":"monotone"},"encoding":{"x":{"field":"x","type":"quantitative","scale":{"domain":[-21,-15.45],"nice":false},"axis":{"orient":"bottom","labels":false,"title":null}},"y":{"field":"y","type":"quantitative","scale":{"domain":[-1.9,6.3],"nice":false},"axis":{"orient":"left","labels":false,"title":null}},"color":{"field":"s","type":"nominal","title":null,"scale":{"domain":["Spec-S TOTAL","Spec-S AGN","Spec-L TOTAL","Spec-L AGN"],"range":["#2222dd","#33dd33","#22bbee","#ee2222"]}},"strokeDash":{"field":"s","type":"nominal","title":null,"scale":{"domain":["Spec-S TOTAL","Spec-S AGN","Spec-L TOTAL","Spec-L AGN"],"range":[[1,0],[2,5],[1,0],[2,5]]}}}},{"data":{"name":"lims"},"transform":[{"filter":"datum.lim=='solid'"}],"mark":{"type":"rule","color":"#333","strokeWidth":1.5},"encoding":{"x":{"field":"flux","type":"quantitative","scale":{"domain":[-21,-15.45],"nice":false},"axis":{"orient":"top","labels":false,"title":null}},"y":{"field":"top","type":"quantitative","scale":{"domain":[-1.9,6.3],"nice":false},"axis":{"orient":"right","labels":false,"title":null}},"y2":{"field":"bottom"}}},{"data":{"name":"lims"},"transform":[{"filter":"datum.lim=='dashed'"}],"mark":{"type":"rule","color":"#333","strokeWidth":1.5,"strokeDash":[14,11],"strokeDashOffset":12},"encoding":{"x":{"field":"flux","type":"quantitative","scale":{"domain":[-21,-15.45],"nice":false},"axis":null},"y":{"field":"top","type":"quantitative","scale":{"domain":[-1.9,6.3],"nice":false},"axis":null},"y2":{"field":"bottom"}}}]},
{"title":"[NeII] 12.81μm","resolve":{"axis":{"x":"independent","y":"independent"}},"layer":[{"data":{"name":"c"},"transform":[{"filter":"datum.p==15"},{"flatten":["x","y"]}],"mark":{"type":"line","clip":true,"strokeWidth":1.7,"interpolate":"monotone"},"encoding":{"x":{"field":"x","type":"quantitative","scale":{"domain":[-21,-15.45],"nice":false},"axis":{"orient":"bottom","labels":false,"title":null}},"y":{"field":"y","type":"quantitative","scale":{"domain":[-1.9,6.3],"nice":false},"axis":{"orient":"left","labels":false,"title":null}},"color":{"field":"s","type":"nominal","title":null,"scale":{"domain":["Spec-S TOTAL","Spec-S AGN","Spec-L TOTAL","Spec-L AGN"],"range":["#2222dd","#33dd33","#22bbee","#ee2222"]}},"strokeDash":{"field":"s","type":"nominal","title":null,"scale":{"domain":["Spec-S TOTAL","Spec-S AGN","Spec-L TOTAL","Spec-L AGN"],"range":[[1,0],[2,5],[1,0],[2,5]]}}}},{"data":{"name":"lims"},"transform":[{"filter":"datum.lim=='solid'"}],"mark":{"type":"rule","color":"#333","strokeWidth":1.5},"encoding":{"x":{"field":"flux","type":"quantitative","scale":{"domain":[-21,-15.45],"nice":false},"axis":{"orient":"top","labels":false,"title":null}},"y":{"field":"top","type":"quantitative","scale":{"domain":[-1.9,6.3],"nice":false},"axis":{"orient":"right","labels":false,"title":null}},"y2":{"field":"bottom"}}},{"data":{"name":"lims"},"transform":[{"filter":"datum.lim=='dashed'"}],"mark":{"type":"rule","color":"#333","strokeWidth":1.5,"strokeDash":[14,11],"strokeDashOffset":12},"encoding":{"x":{"field":"flux","type":"quantitative","scale":{"domain":[-21,-15.45],"nice":false},"axis":null},"y":{"field":"top","type":"quantitative","scale":{"domain":[-1.9,6.3],"nice":false},"axis":null},"y2":{"field":"bottom"}}}]},
{"title":"[ArV] 13.09μm","resolve":{"axis":{"x":"independent","y":"independent"}},"layer":[{"data":{"name":"c"},"transform":[{"filter":"datum.p==16"},{"flatten":["x","y"]}],"mark":{"type":"line","clip":true,"strokeWidth":1.7,"interpolate":"monotone"},"encoding":{"x":{"field":"x","type":"quantitative","scale":{"domain":[-21,-15.45],"nice":false},"axis":{"orient":"bottom","labels":false,"title":null}},"y":{"field":"y","type":"quantitative","scale":{"domain":[-1.9,6.3],"nice":false},"axis":{"orient":"left","title":"log[N(>Fₗᵢₙₑ)] (deg⁻²)","labelExpr":"datum.value % 2 == 0 ? format(datum.value, 'd') : ''"}},"color":{"field":"s","type":"nominal","title":null,"scale":{"domain":["Spec-S TOTAL","Spec-S AGN","Spec-L TOTAL","Spec-L AGN"],"range":["#2222dd","#33dd33","#22bbee","#ee2222"]}},"strokeDash":{"field":"s","type":"nominal","title":null,"scale":{"domain":["Spec-S TOTAL","Spec-S AGN","Spec-L TOTAL","Spec-L AGN"],"range":[[1,0],[2,5],[1,0],[2,5]]}}}},{"data":{"name":"lims"},"transform":[{"filter":"datum.lim=='solid'"}],"mark":{"type":"rule","color":"#333","strokeWidth":1.5},"encoding":{"x":{"field":"flux","type":"quantitative","scale":{"domain":[-21,-15.45],"nice":false},"axis":{"orient":"top","labels":false,"title":null}},"y":{"field":"top","type":"quantitative","scale":{"domain":[-1.9,6.3],"nice":false},"axis":{"orient":"right","labels":false,"title":null}},"y2":{"field":"bottom"}}},{"data":{"name":"lims"},"transform":[{"filter":"datum.lim=='dashed'"}],"mark":{"type":"rule","color":"#333","strokeWidth":1.5,"strokeDash":[14,11],"strokeDashOffset":12},"encoding":{"x":{"field":"flux","type":"quantitative","scale":{"domain":[-21,-15.45],"nice":false},"axis":null},"y":{"field":"top","type":"quantitative","scale":{"domain":[-1.9,6.3],"nice":false},"axis":null},"y2":{"field":"bottom"}}}]},
{"title":"[MgV] 13.50μm","resolve":{"axis":{"x":"independent","y":"independent"}},"layer":[{"data":{"name":"c"},"transform":[{"filter":"datum.p==17"},{"flatten":["x","y"]}],"mark":{"type":"line","clip":true,"strokeWidth":1.7,"interpolate":"monotone"},"encoding":{"x":{"field":"x","type":"quantitative","scale":{"domain":[-21,-15.45],"nice":false},"axis":{"orient":"bottom","labels":false,"title":null}},"y":{"field":"y","type":"quantitative","scale":{"domain":[-1.9,6.3],"nice":false},"axis":{"orient":"left","labels":false,"title":null}},"color":{"field":"s","type":"nominal","title":null,"scale":{"domain":["Spec-S TOTAL","Spec-S AGN","Spec-L TOTAL","Spec-L AGN"],"range":["#2222dd","#33dd33","#22bbee","#ee2222"]}},"strokeDash":{"field":"s","type":"nominal","title":null,"scale":{"domain":["Spec-S TOTAL","Spec-S AGN","Spec-L TOTAL","Spec-L AGN"],"range":[[1,0],[2,5],[1,0],[2,5]]}}}},{"data":{"name":"lims"},"transform":[{"filter":"datum.lim=='solid'"}],"mark":{"type":"rule","color":"#333","strokeWidth":1.5},"encoding":{"x":{"field":"flux","type":"quantitative","scale":{"domain":[-21,-15.45],"nice":false},"axis":{"orient":"top","labels":false,"title":null}},"y":{"field":"top","type":"quantitative","scale":{"domain":[-1.9,6.3],"nice":false},"axis":{"orient":"right","labels":false,"title":null}},"y2":{"field":"bottom"}}},{"data":{"name":"lims"},"transform":[{"filter":"datum.lim=='dashed'"}],"mark":{"type":"rule","color":"#333","strokeWidth":1.5,"strokeDash":[14,11],"strokeDashOffset":12},"encoding":{"x":{"field":"flux","type":"quantitative","scale":{"domain":[-21,-15.45],"nice":false},"axis":null},"y":{"field":"top","type":"quantitative","scale":{"domain":[-1.9,6.3],"nice":false},"axis":null},"y2":{"field":"bottom"}}}]},
{"title":"[NeV] 14.32μm","resolve":{"axis":{"x":"independent","y":"independent"}},"layer":[{"data":{"name":"c"},"transform":[{"filter":"datum.p==18"},{"flatten":["x","y"]}],"mark":{"type":"line","clip":true,"strokeWidth":1.7,"interpolate":"monotone"},"encoding":{"x":{"field":"x","type":"quantitative","scale":{"domain":[-21,-15.45],"nice":false},"axis":{"orient":"bottom","labels":false,"title":null}},"y":{"field":"y","type":"quantitative","scale":{"domain":[-1.9,6.3],"nice":false},"axis":{"orient":"left","labels":false,"title":null}},"color":{"field":"s","type":"nominal","title":null,"scale":{"domain":["Spec-S TOTAL","Spec-S AGN","Spec-L TOTAL","Spec-L AGN"],"range":["#2222dd","#33dd33","#22bbee","#ee2222"]}},"strokeDash":{"field":"s","type":"nominal","title":null,"scale":{"domain":["Spec-S TOTAL","Spec-S AGN","Spec-L TOTAL","Spec-L AGN"],"range":[[1,0],[2,5],[1,0],[2,5]]}}}},{"data":{"name":"lims"},"transform":[{"filter":"datum.lim=='solid'"}],"mark":{"type":"rule","color":"#333","strokeWidth":1.5},"encoding":{"x":{"field":"flux","type":"quantitative","scale":{"domain":[-21,-15.45],"nice":false},"axis":{"orient":"top","labels":false,"title":null}},"y":{"field":"top","type":"quantitative","scale":{"domain":[-1.9,6.3],"nice":false},"axis":{"orient":"right","labels":false,"title":null}},"y2":{"field":"bottom"}}},{"data":{"name":"lims"},"transform":[{"filter":"datum.lim=='dashed'"}],"mark":{"type":"rule","color":"#333","strokeWidth":1.5,"strokeDash":[14,11],"strokeDashOffset":12},"encoding":{"x":{"field":"flux","type":"quantitative","scale":{"domain":[-21,-15.45],"nice":false},"axis":null},"y":{"field":"top","type":"quantitative","scale":{"domain":[-1.9,6.3],"nice":false},"axis":null},"y2":{"field":"bottom"}}}]},
{"title":"[NeIII] 15.55μm","resolve":{"axis":{"x":"independent","y":"independent"}},"layer":[{"data":{"name":"c"},"transform":[{"filter":"datum.p==19"},{"flatten":["x","y"]}],"mark":{"type":"line","clip":true,"strokeWidth":1.7,"interpolate":"monotone"},"encoding":{"x":{"field":"x","type":"quantitative","scale":{"domain":[-21,-15.45],"nice":false},"axis":{"orient":"bottom","labels":false,"title":null}},"y":{"field":"y","type":"quantitative","scale":{"domain":[-1.9,6.3],"nice":false},"axis":{"orient":"left","labels":false,"title":null}},"color":{"field":"s","type":"nominal","title":null,"scale":{"domain":["Spec-S TOTAL","Spec-S AGN","Spec-L TOTAL","Spec-L AGN"],"range":["#2222dd","#33dd33","#22bbee","#ee2222"]}},"strokeDash":{"field":"s","type":"nominal","title":null,"scale":{"domain":["Spec-S TOTAL","Spec-S AGN","Spec-L TOTAL","Spec-L AGN"],"range":[[1,0],[2,5],[1,0],[2,5]]}}}},{"data":{"name":"lims"},"transform":[{"filter":"datum.lim=='solid'"}],"mark":{"type":"rule","color":"#333","strokeWidth":1.5},"encoding":{"x":{"field":"flux","type":"quantitative","scale":{"domain":[-21,-15.45],"nice":false},"axis":{"orient":"top","labels":false,"title":null}},"y":{"field":"top","type":"quantitative","scale":{"domain":[-1.9,6.3],"nice":false},"axis":{"orient":"right","labels":false,"title":null}},"y2":{"field":"bottom"}}},{"data":{"name":"lims"},"transform":[{"filter":"datum.lim=='dashed'"}],"mark":{"type":"rule","color":"#333","strokeWidth":1.5,"strokeDash":[14,11],"strokeDashOffset":12},"encoding":{"x":{"field":"flux","type":"quantitative","scale":{"domain":[-21,-15.45],"nice":false},"axis":null},"y":{"field":"top","type":"quantitative","scale":{"domain":[-1.9,6.3],"nice":false},"axis":null},"y2":{"field":"bottom"}}}]},
{"title":"H₂ 17.03μm","resolve":{"axis":{"x":"independent","y":"independent"}},"layer":[{"data":{"name":"c"},"transform":[{"filter":"datum.p==20"},{"flatten":["x","y"]}],"mark":{"type":"line","clip":true,"strokeWidth":1.7,"interpolate":"monotone"},"encoding":{"x":{"field":"x","type":"quantitative","scale":{"domain":[-21,-15.45],"nice":false},"axis":{"orient":"bottom","labels":false,"title":null}},"y":{"field":"y","type":"quantitative","scale":{"domain":[-1.9,6.3],"nice":false},"axis":{"orient":"left","labels":false,"title":null}},"color":{"field":"s","type":"nominal","title":null,"scale":{"domain":["Spec-S TOTAL","Spec-S AGN","Spec-L TOTAL","Spec-L AGN"],"range":["#2222dd","#33dd33","#22bbee","#ee2222"]}},"strokeDash":{"field":"s","type":"nominal","title":null,"scale":{"domain":["Spec-S TOTAL","Spec-S AGN","Spec-L TOTAL","Spec-L AGN"],"range":[[1,0],[2,5],[1,0],[2,5]]}}}},{"data":{"name":"lims"},"transform":[{"filter":"datum.lim=='solid'"}],"mark":{"type":"rule","color":"#333","strokeWidth":1.5},"encoding":{"x":{"field":"flux","type":"quantitative","scale":{"domain":[-21,-15.45],"nice":false},"axis":{"orient":"top","labels":false,"title":null}},"y":{"field":"top","type":"quantitative","scale":{"domain":[-1.9,6.3],"nice":false},"axis":{"orient":"right","labels":false,"title":null}},"y2":{"field":"bottom"}}},{"data":{"name":"lims"},"transform":[{"filter":"datum.lim=='dashed'"}],"mark":{"type":"rule","color":"#333","strokeWidth":1.5,"strokeDash":[14,11],"strokeDashOffset":12},"encoding":{"x":{"field":"flux","type":"quantitative","scale":{"domain":[-21,-15.45],"nice":false},"axis":null},"y":{"field":"top","type":"quantitative","scale":{"domain":[-1.9,6.3],"nice":false},"axis":null},"y2":{"field":"bottom"}}}]},
{"title":"[FeII] 17.93μm","resolve":{"axis":{"x":"independent","y":"independent"}},"layer":[{"data":{"name":"c"},"transform":[{"filter":"datum.p==21"},{"flatten":["x","y"]}],"mark":{"type":"line","clip":true,"strokeWidth":1.7,"interpolate":"monotone"},"encoding":{"x":{"field":"x","type":"quantitative","scale":{"domain":[-21,-15.45],"nice":false},"axis":{"orient":"bottom","labels":false,"title":null}},"y":{"field":"y","type":"quantitative","scale":{"domain":[-1.9,6.3],"nice":false},"axis":{"orient":"left","title":"log[N(>Fₗᵢₙₑ)] (deg⁻²)","labelExpr":"datum.value % 2 == 0 ? format(datum.value, 'd') : ''"}},"color":{"field":"s","type":"nominal","title":null,"scale":{"domain":["Spec-S TOTAL","Spec-S AGN","Spec-L TOTAL","Spec-L AGN"],"range":["#2222dd","#33dd33","#22bbee","#ee2222"]}},"strokeDash":{"field":"s","type":"nominal","title":null,"scale":{"domain":["Spec-S TOTAL","Spec-S AGN","Spec-L TOTAL","Spec-L AGN"],"range":[[1,0],[2,5],[1,0],[2,5]]}}}},{"data":{"name":"lims"},"transform":[{"filter":"datum.lim=='solid'"}],"mark":{"type":"rule","color":"#333","strokeWidth":1.5},"encoding":{"x":{"field":"flux","type":"quantitative","scale":{"domain":[-21,-15.45],"nice":false},"axis":{"orient":"top","labels":false,"title":null}},"y":{"field":"top","type":"quantitative","scale":{"domain":[-1.9,6.3],"nice":false},"axis":{"orient":"right","labels":false,"title":null}},"y2":{"field":"bottom"}}},{"data":{"name":"lims"},"transform":[{"filter":"datum.lim=='dashed'"}],"mark":{"type":"rule","color":"#333","strokeWidth":1.5,"strokeDash":[14,11],"strokeDashOffset":12},"encoding":{"x":{"field":"flux","type":"quantitative","scale":{"domain":[-21,-15.45],"nice":false},"axis":null},"y":{"field":"top","type":"quantitative","scale":{"domain":[-1.9,6.3],"nice":false},"axis":null},"y2":{"field":"bottom"}}}]},
{"title":"SiI 18.0μm","resolve":{"axis":{"x":"independent","y":"independent"}},"layer":[{"data":{"name":"c"},"transform":[{"filter":"datum.p==22"},{"flatten":["x","y"]}],"mark":{"type":"line","clip":true,"strokeWidth":1.7,"interpolate":"monotone"},"encoding":{"x":{"field":"x","type":"quantitative","scale":{"domain":[-21,-15.45],"nice":false},"axis":{"orient":"bottom","labels":false,"title":null}},"y":{"field":"y","type":"quantitative","scale":{"domain":[-1.9,6.3],"nice":false},"axis":{"orient":"left","labels":false,"title":null}},"color":{"field":"s","type":"nominal","title":null,"scale":{"domain":["Spec-S TOTAL","Spec-S AGN","Spec-L TOTAL","Spec-L AGN"],"range":["#2222dd","#33dd33","#22bbee","#ee2222"]}},"strokeDash":{"field":"s","type":"nominal","title":null,"scale":{"domain":["Spec-S TOTAL","Spec-S AGN","Spec-L TOTAL","Spec-L AGN"],"range":[[1,0],[2,5],[1,0],[2,5]]}}}},{"data":{"name":"lims"},"transform":[{"filter":"datum.lim=='solid'"}],"mark":{"type":"rule","color":"#333","strokeWidth":1.5},"encoding":{"x":{"field":"flux","type":"quantitative","scale":{"domain":[-21,-15.45],"nice":false},"axis":{"orient":"top","labels":false,"title":null}},"y":{"field":"top","type":"quantitative","scale":{"domain":[-1.9,6.3],"nice":false},"axis":{"orient":"right","labels":false,"title":null}},"y2":{"field":"bottom"}}},{"data":{"name":"lims"},"transform":[{"filter":"datum.lim=='dashed'"}],"mark":{"type":"rule","color":"#333","strokeWidth":1.5,"strokeDash":[14,11],"strokeDashOffset":12},"encoding":{"x":{"field":"flux","type":"quantitative","scale":{"domain":[-21,-15.45],"nice":false},"axis":null},"y":{"field":"top","type":"quantitative","scale":{"domain":[-1.9,6.3],"nice":false},"axis":null},"y2":{"field":"bottom"}}}]},
{"title":"[SIII] 18.71μm","resolve":{"axis":{"x":"independent","y":"independent"}},"layer":[{"data":{"name":"c"},"transform":[{"filter":"datum.p==23"},{"flatten":["x","y"]}],"mark":{"type":"line","clip":true,"strokeWidth":1.7,"interpolate":"monotone"},"encoding":{"x":{"field":"x","type":"quantitative","scale":{"domain":[-21,-15.45],"nice":false},"axis":{"orient":"bottom","labels":false,"title":null}},"y":{"field":"y","type":"quantitative","scale":{"domain":[-1.9,6.3],"nice":false},"axis":{"orient":"left","labels":false,"title":null}},"color":{"field":"s","type":"nominal","title":null,"scale":{"domain":["Spec-S TOTAL","Spec-S AGN","Spec-L TOTAL","Spec-L AGN"],"range":["#2222dd","#33dd33","#22bbee","#ee2222"]}},"strokeDash":{"field":"s","type":"nominal","title":null,"scale":{"domain":["Spec-S TOTAL","Spec-S AGN","Spec-L TOTAL","Spec-L AGN"],"range":[[1,0],[2,5],[1,0],[2,5]]}}}},{"data":{"name":"lims"},"transform":[{"filter":"datum.lim=='solid'"}],"mark":{"type":"rule","color":"#333","strokeWidth":1.5},"encoding":{"x":{"field":"flux","type":"quantitative","scale":{"domain":[-21,-15.45],"nice":false},"axis":{"orient":"top","labels":false,"title":null}},"y":{"field":"top","type":"quantitative","scale":{"domain":[-1.9,6.3],"nice":false},"axis":{"orient":"right","labels":false,"title":null}},"y2":{"field":"bottom"}}},{"data":{"name":"lims"},"transform":[{"filter":"datum.lim=='dashed'"}],"mark":{"type":"rule","color":"#333","strokeWidth":1.5,"strokeDash":[14,11],"strokeDashOffset":12},"encoding":{"x":{"field":"flux","type":"quantitative","scale":{"domain":[-21,-15.45],"nice":false},"axis":null},"y":{"field":"top","type":"quantitative","scale":{"domain":[-1.9,6.3],"nice":false},"axis":null},"y2":{"field":"bottom"}}}]},
{"title":"[ArIII] 21.82μm","resolve":{"axis":{"x":"independent","y":"independent"}},"layer":[{"data":{"name":"c"},"transform":[{"filter":"datum.p==24"},{"flatten":["x","y"]}],"mark":{"type":"line","clip":true,"strokeWidth":1.7,"interpolate":"monotone"},"encoding":{"x":{"field":"x","type":"quantitative","scale":{"domain":[-21,-15.45],"nice":false},"axis":{"orient":"bottom","labels":false,"title":null}},"y":{"field":"y","type":"quantitative","scale":{"domain":[-1.9,6.3],"nice":false},"axis":{"orient":"left","labels":false,"title":null}},"color":{"field":"s","type":"nominal","title":null,"scale":{"domain":["Spec-S TOTAL","Spec-S AGN","Spec-L TOTAL","Spec-L AGN"],"range":["#2222dd","#33dd33","#22bbee","#ee2222"]}},"strokeDash":{"field":"s","type":"nominal","title":null,"scale":{"domain":["Spec-S TOTAL","Spec-S AGN","Spec-L TOTAL","Spec-L AGN"],"range":[[1,0],[2,5],[1,0],[2,5]]}}}},{"data":{"name":"lims"},"transform":[{"filter":"datum.lim=='solid'"}],"mark":{"type":"rule","color":"#333","strokeWidth":1.5},"encoding":{"x":{"field":"flux","type":"quantitative","scale":{"domain":[-21,-15.45],"nice":false},"axis":{"orient":"top","labels":false,"title":null}},"y":{"field":"top","type":"quantitative","scale":{"domain":[-1.9,6.3],"nice":false},"axis":{"orient":"right","labels":false,"title":null}},"y2":{"field":"bottom"}}},{"data":{"name":"lims"},"transform":[{"filter":"datum.lim=='dashed'"}],"mark":{"type":"rule","color":"#333","strokeWidth":1.5,"strokeDash":[14,11],"strokeDashOffset":12},"encoding":{"x":{"field":"flux","type":"quantitative","scale":{"domain":[-21,-15.45],"nice":false},"axis":null},"y":{"field":"top","type":"quantitative","scale":{"domain":[-1.9,6.3],"nice":false},"axis":null},"y2":{"field":"bottom"}}}]},
{"title":"[FeIII] 22.90μm","resolve":{"axis":{"x":"independent","y":"independent"}},"layer":[{"data":{"name":"c"},"transform":[{"filter":"datum.p==25"},{"flatten":["x","y"]}],"mark":{"type":"line","clip":true,"strokeWidth":1.7,"interpolate":"monotone"},"encoding":{"x":{"field":"x","type":"quantitative","scale":{"domain":[-21,-15.45],"nice":false},"axis":{"orient":"bottom","labels":false,"title":null}},"y":{"field":"y","type":"quantitative","scale":{"domain":[-1.9,6.3],"nice":false},"axis":{"orient":"left","labels":false,"title":null}},"color":{"field":"s","type":"nominal","title":null,"scale":{"domain":["Spec-S TOTAL","Spec-S AGN","Spec-L TOTAL","Spec-L AGN"],"range":["#2222dd","#33dd33","#22bbee","#ee2222"]}},"strokeDash":{"field":"s","type":"nominal","title":null,"scale":{"domain":["Spec-S TOTAL","Spec-S AGN","Spec-L TOTAL","Spec-L AGN"],"range":[[1,0],[2,5],[1,0],[2,5]]}}}},{"data":{"name":"lims"},"transform":[{"filter":"datum.lim=='solid'"}],"mark":{"type":"rule","color":"#333","strokeWidth":1.5},"encoding":{"x":{"field":"flux","type":"quantitative","scale":{"domain":[-21,-15.45],"nice":false},"axis":{"orient":"top","labels":false,"title":null}},"y":{"field":"top","type":"quantitative","scale":{"domain":[-1.9,6.3],"nice":false},"axis":{"orient":"right","labels":false,"title":null}},"y2":{"field":"bottom"}}},{"data":{"name":"lims"},"transform":[{"filter":"datum.lim=='dashed'"}],"mark":{"type":"rule","color":"#333","strokeWidth":1.5,"strokeDash":[14,11],"strokeDashOffset":12},"encoding":{"x":{"field":"flux","type":"quantitative","scale":{"domain":[-21,-15.45],"nice":false},"axis":null},"y":{"field":"top","type":"quantitative","scale":{"domain":[-1.9,6.3],"nice":false},"axis":null},"y2":{"field":"bottom"}}}]},
{"title":"[NeV] 24.31μm","resolve":{"axis":{"x":"independent","y":"independent"}},"layer":[{"data":{"name":"c"},"transform":[{"filter":"datum.p==26"},{"flatten":["x","y"]}],"mark":{"type":"line","clip":true,"strokeWidth":1.7,"interpolate":"monotone"},"encoding":{"x":{"field":"x","type":"quantitative","scale":{"domain":[-21,-15.45],"nice":false},"axis":{"orient":"bottom","labels":false,"title":null}},"y":{"field":"y","type":"quantitative","scale":{"domain":[-1.9,6.3],"nice":false},"axis":{"orient":"left","title":"log[N(>Fₗᵢₙₑ)] (deg⁻²)","labelExpr":"datum.value % 2 == 0 ? format(datum.value, 'd') : ''"}},"color":{"field":"s","type":"nominal","title":null,"scale":{"domain":["Spec-S TOTAL","Spec-S AGN","Spec-L TOTAL","Spec-L AGN"],"range":["#2222dd","#33dd33","#22bbee","#ee2222"]}},"strokeDash":{"field":"s","type":"nominal","title":null,"scale":{"domain":["Spec-S TOTAL","Spec-S AGN","Spec-L TOTAL","Spec-L AGN"],"range":[[1,0],[2,5],[1,0],[2,5]]}}}},{"data":{"name":"lims"},"transform":[{"filter":"datum.lim=='solid'"}],"mark":{"type":"rule","color":"#333","strokeWidth":1.5},"encoding":{"x":{"field":"flux","type":"quantitative","scale":{"domain":[-21,-15.45],"nice":false},"axis":{"orient":"top","labels":false,"title":null}},"y":{"field":"top","type":"quantitative","scale":{"domain":[-1.9,6.3],"nice":false},"axis":{"orient":"right","labels":false,"title":null}},"y2":{"field":"bottom"}}},{"data":{"name":"lims"},"transform":[{"filter":"datum.lim=='dashed'"}],"mark":{"type":"rule","color":"#333","strokeWidth":1.5,"strokeDash":[14,11],"strokeDashOffset":12},"encoding":{"x":{"field":"flux","type":"quantitative","scale":{"domain":[-21,-15.45],"nice":false},"axis":null},"y":{"field":"top","type":"quantitative","scale":{"domain":[-1.9,6.3],"nice":false},"axis":null},"y2":{"field":"bottom"}}}]},
{"title":"[OIV] 25.89μm","resolve":{"axis":{"x":"independent","y":"independent"}},"layer":[{"data":{"name":"c"},"transform":[{"filter":"datum.p==27"},{"flatten":["x","y"]}],"mark":{"type":"line","clip":true,"strokeWidth":1.7,"interpolate":"monotone"},"encoding":{"x":{"field":"x","type":"quantitative","scale":{"domain":[-21,-15.45],"nice":false},"axis":{"orient":"bottom","labels":false,"title":null}},"y":{"field":"y","type":"quantitative","scale":{"domain":[-1.9,6.3],"nice":false},"axis":{"orient":"left","labels":false,"title":null}},"color":{"field":"s","type":"nominal","title":null,"scale":{"domain":["Spec-S TOTAL","Spec-S AGN","Spec-L TOTAL","Spec-L AGN"],"range":["#2222dd","#33dd33","#22bbee","#ee2222"]}},"strokeDash":{"field":"s","type":"nominal","title":null,"scale":{"domain":["Spec-S TOTAL","Spec-S AGN","Spec-L TOTAL","Spec-L AGN"],"range":[[1,0],[2,5],[1,0],[2,5]]}}}},{"data":{"name":"lims"},"transform":[{"filter":"datum.lim=='solid'"}],"mark":{"type":"rule","color":"#333","strokeWidth":1.5},"encoding":{"x":{"field":"flux","type":"quantitative","scale":{"domain":[-21,-15.45],"nice":false},"axis":{"orient":"top","labels":false,"title":null}},"y":{"field":"top","type":"quantitative","scale":{"domain":[-1.9,6.3],"nice":false},"axis":{"orient":"right","labels":false,"title":null}},"y2":{"field":"bottom"}}},{"data":{"name":"lims"},"transform":[{"filter":"datum.lim=='dashed'"}],"mark":{"type":"rule","color":"#333","strokeWidth":1.5,"strokeDash":[14,11],"strokeDashOffset":12},"encoding":{"x":{"field":"flux","type":"quantitative","scale":{"domain":[-21,-15.45],"nice":false},"axis":null},"y":{"field":"top","type":"quantitative","scale":{"domain":[-1.9,6.3],"nice":false},"axis":null},"y2":{"field":"bottom"}}}]},
{"title":"[FeII] 25.98μm","resolve":{"axis":{"x":"independent","y":"independent"}},"layer":[{"data":{"name":"c"},"transform":[{"filter":"datum.p==28"},{"flatten":["x","y"]}],"mark":{"type":"line","clip":true,"strokeWidth":1.7,"interpolate":"monotone"},"encoding":{"x":{"field":"x","type":"quantitative","scale":{"domain":[-21,-15.45],"nice":false},"axis":{"orient":"bottom","labels":false,"title":null}},"y":{"field":"y","type":"quantitative","scale":{"domain":[-1.9,6.3],"nice":false},"axis":{"orient":"left","labels":false,"title":null}},"color":{"field":"s","type":"nominal","title":null,"scale":{"domain":["Spec-S TOTAL","Spec-S AGN","Spec-L TOTAL","Spec-L AGN"],"range":["#2222dd","#33dd33","#22bbee","#ee2222"]}},"strokeDash":{"field":"s","type":"nominal","title":null,"scale":{"domain":["Spec-S TOTAL","Spec-S AGN","Spec-L TOTAL","Spec-L AGN"],"range":[[1,0],[2,5],[1,0],[2,5]]}}}},{"data":{"name":"lims"},"transform":[{"filter":"datum.lim=='solid'"}],"mark":{"type":"rule","color":"#333","strokeWidth":1.5},"encoding":{"x":{"field":"flux","type":"quantitative","scale":{"domain":[-21,-15.45],"nice":false},"axis":{"orient":"top","labels":false,"title":null}},"y":{"field":"top","type":"quantitative","scale":{"domain":[-1.9,6.3],"nice":false},"axis":{"orient":"right","labels":false,"title":null}},"y2":{"field":"bottom"}}},{"data":{"name":"lims"},"transform":[{"filter":"datum.lim=='dashed'"}],"mark":{"type":"rule","color":"#333","strokeWidth":1.5,"strokeDash":[14,11],"strokeDashOffset":12},"encoding":{"x":{"field":"flux","type":"quantitative","scale":{"domain":[-21,-15.45],"nice":false},"axis":null},"y":{"field":"top","type":"quantitative","scale":{"domain":[-1.9,6.3],"nice":false},"axis":null},"y2":{"field":"bottom"}}}]},
{"title":"[SIII] 33.48μm","resolve":{"axis":{"x":"independent","y":"independent"}},"layer":[{"data":{"name":"c"},"transform":[{"filter":"datum.p==29"},{"flatten":["x","y"]}],"mark":{"type":"line","clip":true,"strokeWidth":1.7,"interpolate":"monotone"},"encoding":{"x":{"field":"x","type":"quantitative","scale":{"domain":[-21,-15.45],"nice":false},"axis":{"orient":"bottom","labels":false,"title":null}},"y":{"field":"y","type":"quantitative","scale":{"domain":[-1.9,6.3],"nice":false},"axis":{"orient":"left","labels":false,"title":null}},"color":{"field":"s","type":"nominal","title":null,"scale":{"domain":["Spec-S TOTAL","Spec-S AGN","Spec-L TOTAL","Spec-L AGN"],"range":["#2222dd","#33dd33","#22bbee","#ee2222"]}},"strokeDash":{"field":"s","type":"nominal","title":null,"scale":{"domain":["Spec-S TOTAL","Spec-S AGN","Spec-L TOTAL","Spec-L AGN"],"range":[[1,0],[2,5],[1,0],[2,5]]}}}},{"data":{"name":"lims"},"transform":[{"filter":"datum.lim=='solid'"}],"mark":{"type":"rule","color":"#333","strokeWidth":1.5},"encoding":{"x":{"field":"flux","type":"quantitative","scale":{"domain":[-21,-15.45],"nice":false},"axis":{"orient":"top","labels":false,"title":null}},"y":{"field":"top","type":"quantitative","scale":{"domain":[-1.9,6.3],"nice":false},"axis":{"orient":"right","labels":false,"title":null}},"y2":{"field":"bottom"}}},{"data":{"name":"lims"},"transform":[{"filter":"datum.lim=='dashed'"}],"mark":{"type":"rule","color":"#333","strokeWidth":1.5,"strokeDash":[14,11],"strokeDashOffset":12},"encoding":{"x":{"field":"flux","type":"quantitative","scale":{"domain":[-21,-15.45],"nice":false},"axis":null},"y":{"field":"top","type":"quantitative","scale":{"domain":[-1.9,6.3],"nice":false},"axis":null},"y2":{"field":"bottom"}}}]},
{"title":"[SiII] 34.82μm","resolve":{"axis":{"x":"independent","y":"independent"}},"layer":[{"data":{"name":"c"},"transform":[{"filter":"datum.p==30"},{"flatten":["x","y"]}],"mark":{"type":"line","clip":true,"strokeWidth":1.7,"interpolate":"monotone"},"encoding":{"x":{"field":"x","type":"quantitative","scale":{"domain":[-21,-15.45],"nice":false},"axis":{"orient":"bottom","labels":false,"title":null}},"y":{"field":"y","type":"quantitative","scale":{"domain":[-1.9,6.3],"nice":false},"axis":{"orient":"left","labels":false,"title":null}},"color":{"field":"s","type":"nominal","title":null,"scale":{"domain":["Spec-S TOTAL","Spec-S AGN","Spec-L TOTAL","Spec-L AGN"],"range":["#2222dd","#33dd33","#22bbee","#ee2222"]}},"strokeDash":{"field":"s","type":"nominal","title":null,"scale":{"domain":["Spec-S TOTAL","Spec-S AGN","Spec-L TOTAL","Spec-L AGN"],"range":[[1,0],[2,5],[1,0],[2,5]]}}}},{"data":{"name":"lims"},"transform":[{"filter":"datum.lim=='solid'"}],"mark":{"type":"rule","color":"#333","strokeWidth":1.5},"encoding":{"x":{"field":"flux","type":"quantitative","scale":{"domain":[-21,-15.45],"nice":false},"axis":{"orient":"top","labels":false,"title":null}},"y":{"field":"top","type":"quantitative","scale":{"domain":[-1.9,6.3],"nice":false},"axis":{"orient":"right","labels":false,"title":null}},"y2":{"field":"bottom"}}},{"data":{"name":"lims"},"transform":[{"filter":"datum.lim=='dashed'"}],"mark":{"type":"rule","color":"#333","strokeWidth":1.5,"strokeDash":[14,11],"strokeDashOffset":12},"encoding":{"x":{"field":"flux","type":"quantitative","scale":{"domain":[-21,-15.45],"nice":false},"axis":null},"y":{"field":"top","type":"quantitative","scale":{"domain":[-1.9,6.3],"nice":false},"axis":null},"y2":{"field":"bottom"}}}]}
]
}
